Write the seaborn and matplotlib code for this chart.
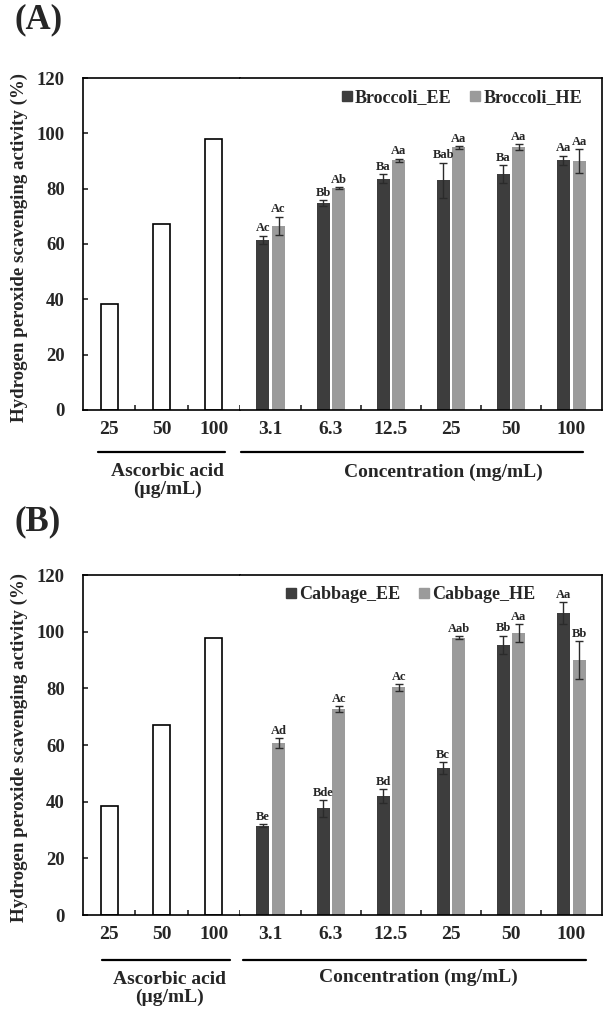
import numpy as np
import pandas as pd
import matplotlib
matplotlib.use("Agg")
import matplotlib.pyplot as plt
import seaborn as sns
from matplotlib.lines import Line2D

# ascorbic acid standard (same in both panels)
asc_conc = ["25", "50", "100"]
asc_val = [38.4, 67.2, 97.9]

# extract concentrations (mg/mL)
ext_conc = ["3.1", "6.3", "12.5", "25", "50", "100"]

# (A) broccoli
broc_names = ["Broccoli_EE", "Broccoli_HE"]
broc_ee = [61.5, 74.8, 83.6, 83.0, 85.2, 90.3]
broc_ee_err = [1.5, 1.0, 1.6, 6.4, 3.2, 1.6]
broc_he = [66.6, 80.3, 90.2, 94.9, 94.9, 89.9]
broc_he_err = [3.2, 0.3, 0.7, 0.4, 1.1, 4.3]
broc_ee_lab = ["Ac", "Bb", "Ba", "Bab", "Ba", "Aa"]
broc_he_lab = ["Ac", "Ab", "Aa", "Aa", "Aa", "Aa"]

# (B) cabbage
cab_names = ["Cabbage_EE", "Cabbage_HE"]
cab_ee = [31.5, 37.6, 42.0, 51.8, 95.4, 106.5]
cab_ee_err = [0.6, 2.9, 2.3, 2.1, 3.2, 3.8]
cab_he = [60.7, 72.7, 80.3, 97.8, 99.5, 89.9]
cab_he_err = [1.7, 1.1, 1.2, 0.5, 3.2, 6.7]
cab_ee_lab = ["Be", "Bde", "Bd", "Bc", "Bb", "Aa"]
cab_he_lab = ["Ad", "Ac", "Ac", "Aab", "Aa", "Bb"]

colors = ["#3d3d3d", "#9b9b9b"]

sns.set_style("ticks")
plt.rcParams["font.family"] = ["Liberation Serif", "DejaVu Sans"]
plt.rcParams["font.weight"] = "bold"
plt.rcParams["axes.linewidth"] = 1.2

W, H = 611, 1010
fig = plt.figure(figsize=(W / 100, H / 100), dpi=100)


def px_rect(x0, x1, ytop, ybot):
    return [x0 / W, 1 - ybot / H, (x1 - x0) / W, (ybot - ytop) / H]


def style_axes(ax, minor):
    ax.set_ylim(0, 120)
    ax.set_xlabel("")
    ax.set_ylabel("")
    ax.set_xticks(ax.get_xticks())
    ax.set_xticks(minor, minor=True)
    ax.tick_params(axis="x", which="major", length=0, pad=8, labelsize=14)
    ax.tick_params(axis="x", which="minor", direction="in", length=3.6, width=1.2)
    for s in ax.spines.values():
        s.set_color("black")
        s.set_linewidth(1.2)


def panel(ytop, ybot, names, ee, ee_err, he, he_err, ee_lab, he_lab,
          tag, tag_y, leg_loc, leg_anchor, lines, labels_y):
    axl = fig.add_axes(px_rect(83, 240, ytop, ybot))
    axr = fig.add_axes(px_rect(240, 602, ytop, ybot))

    sns.barplot(x=asc_conc, y=asc_val, order=asc_conc, color="white",
                edgecolor="black", linewidth=1.2, width=0.32, saturation=1,
                errorbar=None, ax=axl)

    df = pd.DataFrame({
        "conc": ext_conc * 2,
        "extract": [names[0]] * len(ext_conc) + [names[1]] * len(ext_conc),
        "value": ee + he,
    })
    sns.barplot(data=df, x="conc", y="value", hue="extract", order=ext_conc,
                hue_order=names, palette=colors, width=0.52, gap=0.17,
                saturation=1, linewidth=0, errorbar=None, legend=False, ax=axr)

    for cont, errs, labs in zip(axr.containers, [ee_err, he_err], [ee_lab, he_lab]):
        for bar, e, lab in zip(cont, errs, labs):
            cx = bar.get_x() + bar.get_width() / 2
            h = bar.get_height()
            axr.errorbar(cx, h, yerr=e, color="#2b2b2b", lw=1, capsize=3,
                         capthick=1, zorder=5)
            axr.annotate(lab, (cx, h + e), xytext=(0, 1), textcoords="offset points",
                         ha="center", va="bottom", fontsize=9, fontweight="bold")

    style_axes(axl, [0.5, 1.5, 2.5])
    style_axes(axr, [0.5, 1.5, 2.5, 3.5, 4.5])
    axl.spines["right"].set_visible(False)
    axr.spines["left"].set_visible(False)
    axl.set_yticks(range(0, 121, 20))
    axl.tick_params(axis="y", direction="in", length=3.6, width=1.2, pad=13, labelsize=13.5)
    axr.set_yticks([])

    handles = [Line2D([], [], marker="s", linestyle="", color=c, markersize=7)
               for c in colors]
    axr.legend(handles, names, ncol=2, frameon=False, loc=leg_loc,
               bbox_to_anchor=leg_anchor, handlelength=0.6, handletextpad=0.15,
               columnspacing=1.0, borderaxespad=0.2,
               prop={"size": 13, "weight": "bold"})

    # group underlines and captions below the tick labels
    (l0, l1, ly), (r0, r1, ry) = lines
    axl.add_line(Line2D([l0, l1], [ly, ly], transform=axl.transAxes, color="black",
                        lw=1.6, clip_on=False))
    axr.add_line(Line2D([r0, r1], [ry, ry], transform=axr.transAxes, color="black",
                        lw=1.6, clip_on=False))
    (lx, lyy), (rx, ryy) = labels_y
    axl.text(lx, lyy, "Ascorbic acid\n(\u00b5g/mL)", transform=axl.transAxes,
             ha="center", va="center", fontsize=14, fontweight="bold", linespacing=1.05)
    axr.text(rx, ryy, "Concentration (mg/mL)", transform=axr.transAxes,
             ha="center", va="center", fontsize=14, fontweight="bold")

    fig.text(19 / W, 1 - (ytop + ybot + 6) / 2 / H,
             "Hydrogen peroxide scavenging activity (%)", rotation=90,
             ha="center", va="center", fontsize=13.6, fontweight="bold")
    fig.text(14 / W, 1 - tag_y / H, tag, ha="left", va="center",
             fontsize=25, fontweight="bold")


panel(78, 410, broc_names, broc_ee, broc_ee_err, broc_he, broc_he_err,
      broc_ee_lab, broc_he_lab, "(A)", 20, "upper right", (0.975, 1.0),
      [(0.096, 0.904, -0.127), (0.003, 0.947, -0.127)],
      [(0.54, -0.212), (0.562, -0.187)])

panel(575, 915, cab_names, cab_ee, cab_ee_err, cab_he, cab_he_err,
      cab_ee_lab, cab_he_lab, "(B)", 522, "upper center", (0.47, 1.0),
      [(0.121, 0.936, -0.132), (0.008, 0.956, -0.132)],
      [(0.554, -0.215), (0.493, -0.182)])

fig.savefig("out.png", dpi=100)
